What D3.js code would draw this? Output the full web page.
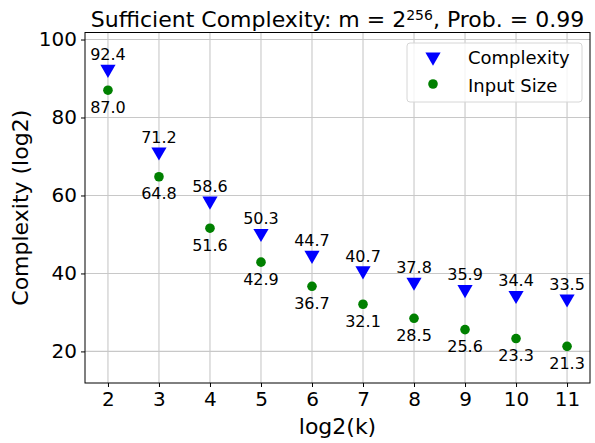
<!DOCTYPE html>
<html>
<head>
<meta charset="utf-8">
<script src="https://cdn.jsdelivr.net/npm/d3@7"></script>
<style>
  body { margin: 0; background: #fff; }
  svg { display: block; font-family: "DejaVu Sans", sans-serif; }
</style>
</head>
<body>
<script>
'use strict';

// values
const logK = [2, 3, 4, 5, 6, 7, 8, 9, 10, 11];
const complexity = [92.4, 71.2, 58.6, 50.3, 44.7, 40.7, 37.8, 35.9, 34.4, 33.5];
const inputSize = [87.0, 64.8, 51.6, 42.9, 36.7, 32.1, 28.5, 25.6, 23.3, 21.3];
const yTicks = [20, 40, 60, 80, 100];
const legendLabels = ['Complexity', 'Input Size'];

const W = 595, H = 443;
const margin = { left: 85, right: 5, top: 32.5, bottom: 60 };

const svg = d3.select('body').append('svg').attr('width', W).attr('height', H);

const x = d3.scaleLinear().domain([1.55, 11.45]).range([margin.left, W - margin.right]);
const y = d3.scaleLinear().domain([11.9, 101.8]).range([H - margin.bottom, margin.top]);

// grid
svg.append('g').selectAll('line').data(logK).join('line')
  .attr('x1', d => x(d)).attr('x2', d => x(d))
  .attr('y1', margin.top).attr('y2', H - margin.bottom)
  .attr('stroke', '#c8c8c8').attr('stroke-width', 1.1);
svg.append('g').selectAll('line').data(yTicks).join('line')
  .attr('x1', margin.left).attr('x2', W - margin.right)
  .attr('y1', d => y(d)).attr('y2', d => y(d))
  .attr('stroke', '#c8c8c8').attr('stroke-width', 1.1);

// axes
const xAxis = d3.axisBottom(x).tickValues(logK).tickFormat(d3.format('d')).tickSizeOuter(0).tickSize(4).tickPadding(5);
const yAxis = d3.axisLeft(y).tickValues(yTicks).tickSizeOuter(0).tickSize(4).tickPadding(4);

const gx = svg.append('g').attr('transform', 'translate(0,' + (H - margin.bottom) + ')').call(xAxis);
const gy = svg.append('g').attr('transform', 'translate(' + margin.left + ',0)').call(yAxis);
[gx, gy].forEach(g => {
  g.select('.domain').remove();
  g.selectAll('text').attr('font-size', 20).attr('font-family', '"DejaVu Sans", sans-serif').attr('fill', '#000');
  g.selectAll('line').attr('stroke', '#000');
});

// frame
svg.append('rect')
  .attr('x', margin.left).attr('y', margin.top)
  .attr('width', W - margin.left - margin.right).attr('height', H - margin.top - margin.bottom)
  .attr('fill', 'none').attr('stroke', '#000').attr('stroke-width', 1);

// markers
const tri = d3.symbol().type(d3.symbolTriangle).size(100);
svg.append('g').selectAll('path').data(logK).join('path')
  .attr('d', tri)
  .attr('transform', (d, i) => 'translate(' + x(d) + ',' + y(complexity[i]) + ') rotate(180)')
  .attr('fill', '#0000ff');
svg.append('g').selectAll('circle').data(logK).join('circle')
  .attr('cx', d => x(d)).attr('cy', (d, i) => y(inputSize[i])).attr('r', 4.8)
  .attr('fill', '#008000');

// value labels
svg.append('g').selectAll('text').data(logK).join('text')
  .attr('x', d => x(d)).attr('y', (d, i) => y(complexity[i]) - 9)
  .attr('text-anchor', 'middle').attr('font-size', 16)
  .text((d, i) => complexity[i].toFixed(1));
svg.append('g').selectAll('text').data(logK).join('text')
  .attr('x', d => x(d)).attr('y', (d, i) => y(inputSize[i]) + 22.5)
  .attr('text-anchor', 'middle').attr('font-size', 16)
  .text((d, i) => inputSize[i].toFixed(1));

// legend
const lg = svg.append('g');
lg.append('rect').attr('x', 407).attr('y', 43).attr('width', 175).attr('height', 59).attr('rx', 3)
  .attr('fill', 'rgba(255,255,255,0.8)').attr('stroke', '#d6d6d6');
lg.append('path').attr('d', tri).attr('transform', 'translate(433,57) rotate(180)').attr('fill', '#0000ff');
lg.append('circle').attr('cx', 433).attr('cy', 84).attr('r', 4.8).attr('fill', '#008000');
lg.selectAll('text.lab').data(legendLabels).join('text')
  .attr('x', 468).attr('y', (d, i) => 64 + i * 28)
  .attr('font-size', 18).text(d => d);

// title
const title = svg.append('text')
  .attr('x', (margin.left + W - margin.right) / 2).attr('y', 26.5)
  .attr('text-anchor', 'middle').attr('font-size', 22);
title.append('tspan').text('Sufficient Complexity: m = 2');
title.append('tspan').attr('font-size', 14).attr('dy', -7).text('256');
title.append('tspan').attr('dy', 7).text(', Prob. = 0.99');

// axis labels
svg.append('text')
  .attr('x', (margin.left + W - margin.right) / 2).attr('y', 434)
  .attr('text-anchor', 'middle').attr('font-size', 22).text('log2(k)');
svg.append('text')
  .attr('transform', 'translate(28,' + ((margin.top + H - margin.bottom) / 2) + ') rotate(-90)')
  .attr('text-anchor', 'middle').attr('font-size', 22).text('Complexity (log2)');
</script>
</body>
</html>
